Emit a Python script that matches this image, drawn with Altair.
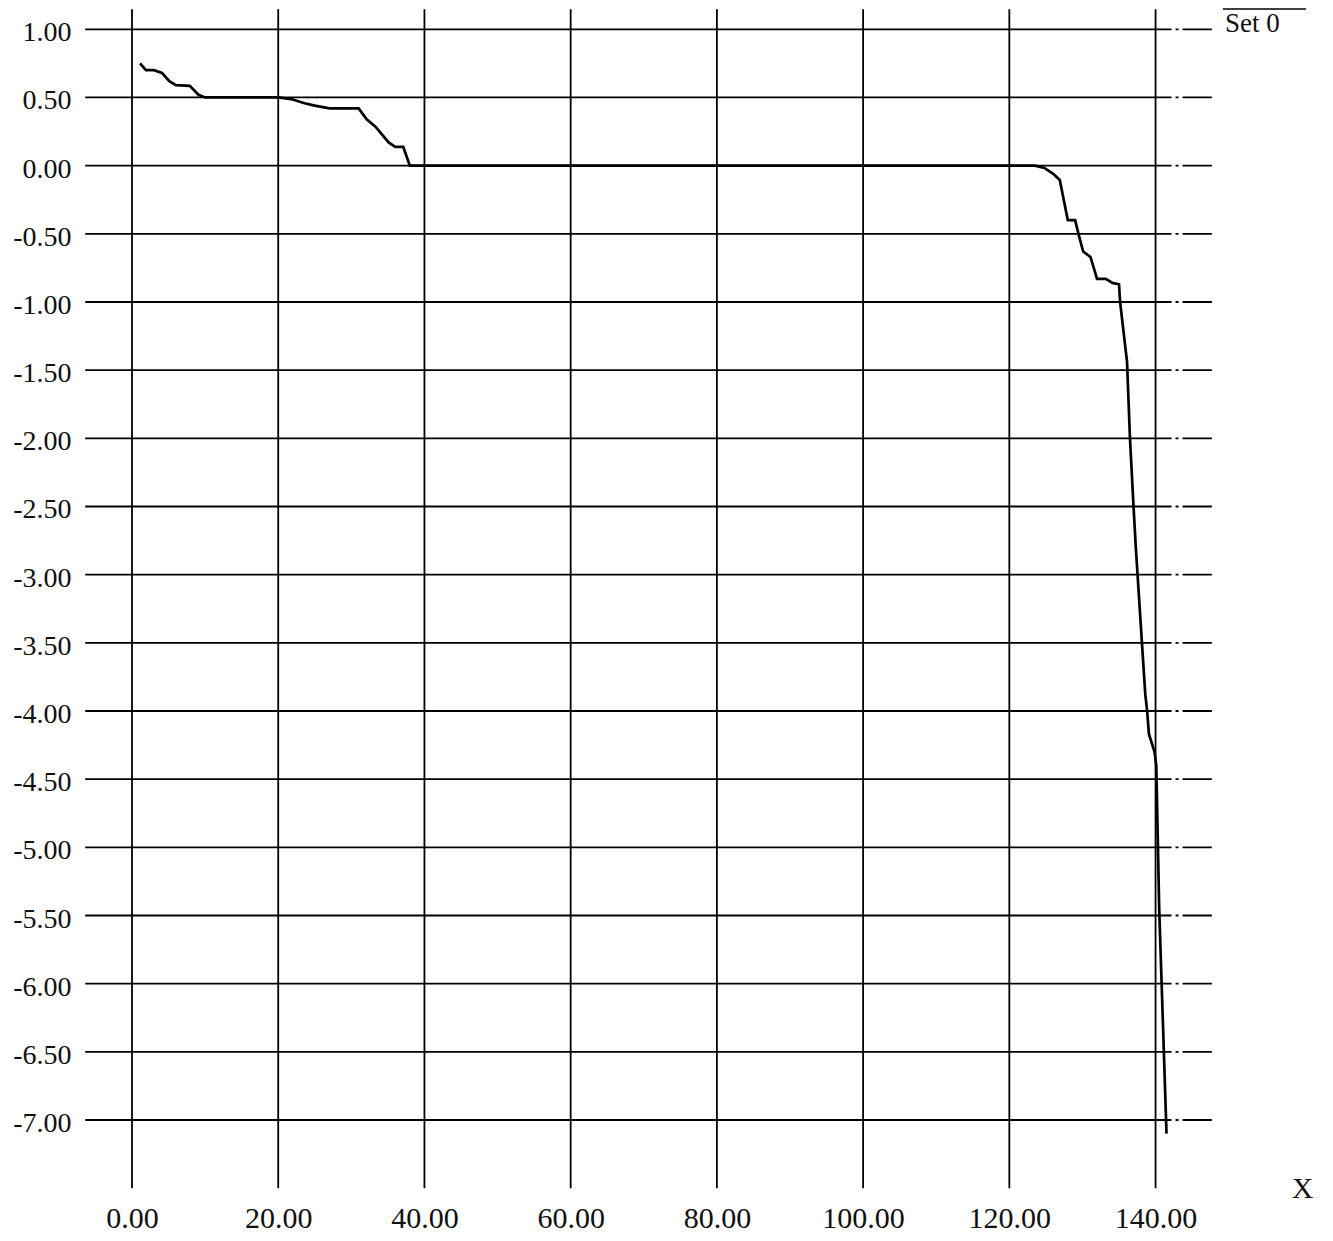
import altair as alt
import pandas as pd

# ---- data ----
x_vals = [1.1, 1.9, 3.0, 4.1, 5.1, 6.0, 7.9, 9.1, 10.0, 20.0, 22.0, 23.6, 25.0,
          27.0, 31.0, 32.1, 33.3, 35.1, 36.0, 37.1, 38.0, 123.5, 124.8, 126.0,
          126.9, 128.0, 129.0, 129.5, 130.1, 131.1, 132.0, 133.2, 134.1, 135.0,
          135.15, 136.1, 136.5, 137.0, 137.3, 138.15, 138.6, 138.85, 139.1,
          139.86, 140.1, 140.5, 141.5]
y_vals = [0.75, 0.70, 0.70, 0.68, 0.62, 0.59, 0.585, 0.52, 0.50, 0.50, 0.485,
          0.458, 0.44, 0.42, 0.42, 0.34, 0.286, 0.17, 0.138, 0.138, 0.0, 0.0,
          -0.017, -0.06, -0.105, -0.40, -0.40, -0.51, -0.63, -0.67, -0.83,
          -0.83, -0.86, -0.87, -1.0, -1.44, -2.0, -2.51, -2.80, -3.51, -3.88,
          -4.0, -4.17, -4.30, -4.40, -5.45, -7.10]

x_ticks = [0, 20, 40, 60, 80, 100, 120, 140]
y_ticks = [1.0, 0.5, 0.0, -0.5, -1.0, -1.5, -2.0, -2.5, -3.0, -3.5, -4.0,
           -4.5, -5.0, -5.5, -6.0, -6.5, -7.0]
series_name = "Set 0"
x_title = "X"

# ---- layout ----
W, H = 1310, 1225
FONT = "Liberation Serif"
x_scale = alt.Scale(domain=[-16.961, 162.22], nice=False, zero=False)
y_scale = alt.Scale(domain=[-7.8287, 1.1562], nice=False, zero=False)

line_df = pd.DataFrame({"x": x_vals, "y": y_vals})
vg_df = pd.DataFrame({"x": x_ticks})
vg_df["ylo"] = -7.5
vg_df["yhi"] = 1.147
hg_df = pd.DataFrame({"y": y_ticks})
hg_df["xa"] = -6.4
hg_df["xb"] = 140.0
hg_df["xc"] = 147.7

lbl = "datum.value < 0 ? '-' + format(-datum.value, '.2f') : format(datum.value, '.2f')"

x_axis = alt.Axis(values=x_ticks, labelExpr=lbl, orient="bottom",
                  domain=False, ticks=False, tickSize=0, grid=False,
                  labelPadding=0, labelBaseline="bottom",
                  labelFont=FONT, labelFontSize=30, labelColor="#111",
                  title=x_title, titleFont=FONT, titleFontSize=30,
                  titleFontWeight="normal", titleColor="#111",
                  titleX=1294, titleY=-36, titleAlign="center",
                  titleBaseline="alphabetic")
y_axis = alt.Axis(values=y_ticks, labelExpr=lbl, orient="left",
                  offset=-63, domain=False, ticks=False, tickSize=0,
                  grid=False, labelPadding=0, labelBaseline="alphabetic",
                  labelOffset=11.5, labelFont=FONT, labelFontSize=28,
                  labelColor="#111", title=None)

vgrid = alt.Chart(vg_df).mark_rule(color="black", strokeWidth=1.8).encode(
    x=alt.X("x:Q", scale=x_scale, axis=x_axis),
    y=alt.Y("ylo:Q", scale=y_scale, axis=y_axis),
    y2="yhi:Q",
)

hgrid = alt.Chart(hg_df).mark_rule(color="black", strokeWidth=1.8).encode(
    y=alt.Y("y:Q", scale=y_scale, axis=y_axis),
    x=alt.X("xa:Q", scale=x_scale, axis=x_axis),
    x2="xb:Q",
)

hgrid_tail = alt.Chart(hg_df).mark_rule(
    color="black", strokeWidth=1.8, strokeDash=[16, 4, 3, 4, 40]
).encode(
    y=alt.Y("y:Q", scale=y_scale, axis=y_axis),
    x=alt.X("xb:Q", scale=x_scale, axis=x_axis),
    x2="xc:Q",
)

line = alt.Chart(line_df).mark_line(color="black", strokeWidth=2.7).encode(
    x=alt.X("x:Q", scale=x_scale, axis=x_axis),
    y=alt.Y("y:Q", scale=y_scale, axis=y_axis),
    order=alt.Order("x:Q"),
)

legend_text = alt.Chart(pd.DataFrame({"t": [series_name]})).mark_text(
    font=FONT, fontSize=27, color="#111", align="left", baseline="top"
).encode(text="t:N", x=alt.value(1217), y=alt.value(3))

legend_bar = alt.Chart(pd.DataFrame({"t": [series_name]})).mark_rule(
    color="black", strokeWidth=1.5
).encode(x=alt.value(1215), x2=alt.value(1298), y=alt.value(1))

chart = alt.layer(vgrid, hgrid, hgrid_tail, line, legend_text, legend_bar).properties(
    width=W, height=H,
    autosize=alt.AutoSizeParams(type="none"),
    padding=0,
).configure(background="white", view=alt.ViewConfig(stroke=None))

chart.save("out.html", embed_options={"renderer": "svg", "actions": False})
